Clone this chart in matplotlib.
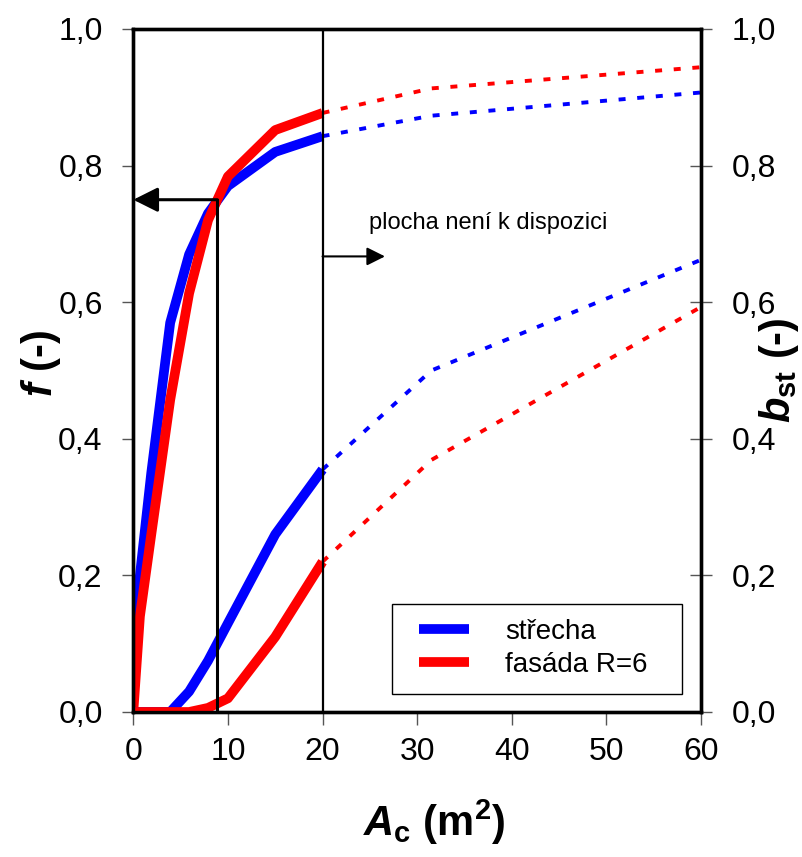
import matplotlib
matplotlib.use("Agg")
import matplotlib.pyplot as plt
from matplotlib import font_manager as fm
from matplotlib.patches import Rectangle

installed = {f.name for f in fm.fontManager.ttflist}
narrow = 'Liberation Sans Narrow' if 'Liberation Sans Narrow' in installed else 'Liberation Sans'

plt.rcParams['font.family'] = ['Liberation Sans', 'DejaVu Sans']
plt.rcParams['mathtext.fontset'] = 'custom'
plt.rcParams['mathtext.rm'] = 'Liberation Sans:bold'
plt.rcParams['mathtext.it'] = 'Liberation Sans:italic:bold'
plt.rcParams['mathtext.bf'] = 'Liberation Sans:bold'

# namerena cast (plna cara)
A = [0, 0.7, 1.9, 3.9, 5.9, 7.9, 10, 15, 20]
f_strecha = [0.10, 0.20, 0.35, 0.57, 0.67, 0.73, 0.77, 0.82, 0.843]
f_fasada = [0.0, 0.14, 0.26, 0.457, 0.613, 0.72, 0.784, 0.852, 0.877]
bst_strecha = [0.0, 0.0, 0.0, 0.0, 0.03, 0.075, 0.13, 0.26, 0.355]
bst_fasada = [0.0, 0.0, 0.0, 0.0, 0.0, 0.006, 0.02, 0.11, 0.22]

# plocha neni k dispozici (teckovane)
A_ext = [20, 31.5, 60]
f_strecha_ext = [0.843, 0.873, 0.907]
f_fasada_ext = [0.877, 0.913, 0.944]
bst_strecha_ext = [0.355, 0.50, 0.662]
bst_fasada_ext = [0.22, 0.369, 0.593]

x_ticks = [0, 10, 20, 30, 40, 50, 60]
y_ticks = [0.0, 0.2, 0.4, 0.6, 0.8, 1.0]
y_labels = [f"{t:.1f}".replace('.', ',') for t in y_ticks]

A_limit = 20      # hranice dostupne plochy
A_read = 8.88     # odecet
f_read = 0.75

blue = '#0000FF'
red = '#FF0000'
lw_thick = 7
lw_dot = 2.8
dots = (0, (1.8, 3.0))
tick_size = 26 if narrow != 'Liberation Sans' else 23

fig = plt.figure(figsize=(8.02, 8.57), dpi=100)
ax = fig.add_axes([0.1662, 0.1692, 0.7079, 0.7970])
ax2 = ax.twinx()

l1, = ax.plot(A, f_strecha, color=blue, lw=lw_thick, solid_capstyle='butt')
l2, = ax.plot(A, f_fasada, color=red, lw=lw_thick, solid_capstyle='butt')
ax.plot(A_ext, f_strecha_ext, color=blue, lw=lw_dot, ls=dots)
ax.plot(A_ext, f_fasada_ext, color=red, lw=lw_dot, ls=dots)

ax2.plot(A, bst_strecha, color=blue, lw=lw_thick, solid_capstyle='butt')
ax2.plot(A, bst_fasada, color=red, lw=lw_thick, solid_capstyle='butt')
ax2.plot(A_ext, bst_strecha_ext, color=blue, lw=lw_dot, ls=dots)
ax2.plot(A_ext, bst_fasada_ext, color=red, lw=lw_dot, ls=dots)

ax2.axvline(A_limit, color='k', lw=1.6)
ax2.plot([A_read, A_read], [0, f_read], color='k', lw=2.2)
ax2.annotate('', xy=(0, f_read), xytext=(A_read, f_read), annotation_clip=False,
             arrowprops=dict(arrowstyle='-|>,head_length=1.5,head_width=0.75',
                             lw=2.2, color='k', shrinkA=0, shrinkB=0))
ax2.annotate('', xy=(26.6, 0.667), xytext=(A_limit, 0.667), annotation_clip=False,
             arrowprops=dict(arrowstyle='-|>,head_length=1.1,head_width=0.55',
                             lw=1.5, color='k', shrinkA=0, shrinkB=0))
ax2.text(24.9, 0.716, 'plocha není k dispozici', fontsize=17, va='center', ha='left')

for a in (ax, ax2):
    a.set_xlim(0, 60)
    a.set_ylim(0, 1)
    a.set_yticks(y_ticks)
    for s in a.spines.values():
        s.set_linewidth(2.4)

ax.set_xticks(x_ticks)
ax.set_xticklabels([str(t) for t in x_ticks], family=narrow)
ax.set_yticklabels(y_labels, family=narrow)
ax2.set_yticklabels(y_labels, family=narrow)

ax.tick_params(axis='y', direction='out', length=8, width=1, color='#555555', pad=14, labelsize=tick_size)
ax.tick_params(axis='x', direction='out', length=9, width=1, color='#555555', pad=9, labelsize=tick_size)
ax2.tick_params(axis='y', direction='inout', length=16, width=1, color='#555555', pad=14, labelsize=tick_size)

ax.set_ylabel(r'$f$ (-)', fontsize=30, fontweight='bold')
ax.yaxis.set_label_coords(-0.124, 0.51)
ax2.set_ylabel(r'$b_{\mathrm{st}}$ (-)', fontsize=30, fontweight='bold', rotation=90)
ax2.yaxis.set_label_coords(1.098, 0.5)
ax.set_xlabel(r'$A_{\mathrm{c}}$ (m$^{\mathrm{2}}$)', fontsize=30, fontweight='bold')
ax.xaxis.set_label_coords(0.53, -0.125)

# legenda
ax2.add_patch(Rectangle((0.4557, 0.0264), 0.5108, 0.1317, transform=ax2.transAxes,
                        fill=True, facecolor='white', edgecolor='k', lw=1.0, zorder=5))
leg = ax2.legend([l1, l2], ['střecha', 'fasáda R=6'], loc='center left',
                 bbox_to_anchor=(0.5033, 0.093), borderaxespad=0, borderpad=0,
                 frameon=False, fontsize=20, handlelength=1.8, handletextpad=1.3,
                 labelspacing=0.25)
leg.set_zorder(6)

fig.savefig('out.png', dpi=100)
